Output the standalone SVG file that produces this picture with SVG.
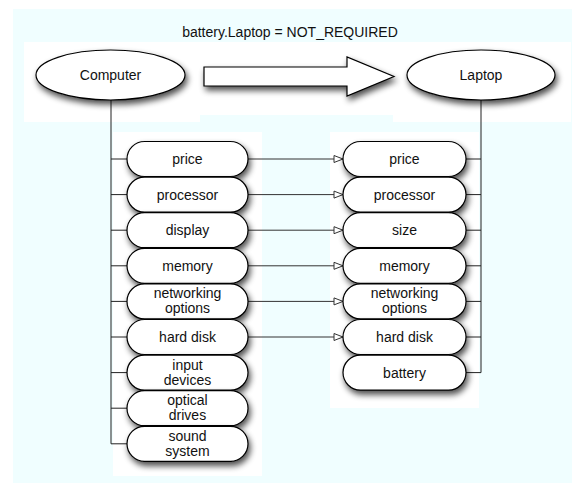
<svg xmlns="http://www.w3.org/2000/svg" width="572" height="483" viewBox="0 0 572 483">
  <defs>
    <filter id="shadow" x="-20%" y="-30%" width="150%" height="180%">
      <feGaussianBlur in="SourceAlpha" stdDeviation="3"/>
      <feOffset dx="2" dy="4" result="b"/>
      <feComponentTransfer><feFuncA type="linear" slope="0.7"/></feComponentTransfer>
      <feMerge><feMergeNode/><feMergeNode in="SourceGraphic"/></feMerge>
    </filter>
    <marker id="open-tri" markerWidth="11" markerHeight="9" refX="10" refY="4.5" orient="auto" markerUnits="userSpaceOnUse">
      <path d="M1,1 L10,4.5 L1,8 Z" fill="#fff" stroke="#333" stroke-width="1"/>
    </marker>
  </defs>
  <style>
    text { font-family: "Liberation Sans", Arial, sans-serif; font-size: 14px; fill: #111; text-anchor: middle; }
    .pill { fill: #fff; stroke: #000; stroke-width: 1.2; filter: url(#shadow); }
    .oval { fill: #fff; stroke: #000; stroke-width: 1.2; filter: url(#shadow); }
    .tree { fill: none; stroke: #222; stroke-width: 1; }
    .link { fill: none; stroke: #333; stroke-width: 1; marker-end: url(#open-tri); }
  </style>

  <!-- page background and white panels -->
  <rect x="13" y="9" width="559" height="474" fill="#F0FEFF"/>
  <rect x="24" y="42" width="547" height="73" fill="#fff"/>
  <rect x="24" y="115" width="176" height="7" fill="#fff"/>
  <rect x="393" y="115" width="178" height="7" fill="#fff"/>
  <rect x="113" y="132" width="149" height="344" fill="#fff"/>
  <rect x="330" y="132" width="149" height="276" fill="#fff"/>

  <text x="290" y="37">battery.Laptop = NOT_REQUIRED</text>

  <!-- connectors -->
  <g id="connectors">
    <path class="tree" d="M111,100 V443.8 M111,159 H127 M111,194.6 H127 M111,230.2 H127 M111,265.8 H127 M111,301.4 H127 M111,337 H127 M111,372.6 H127 M111,408.2 H127 M111,443.8 H127"/>
    <path class="tree" d="M481,100 V372.6 M466,159 H481 M466,194.6 H481 M466,230.2 H481 M466,265.8 H481 M466,301.4 H481 M466,337 H481 M466,372.6 H481"/>
    <line class="link" x1="248" y1="159" x2="343" y2="159"/>
    <line class="link" x1="248" y1="194.6" x2="343" y2="194.6"/>
    <line class="link" x1="248" y1="230.2" x2="343" y2="230.2"/>
    <line class="link" x1="248" y1="265.8" x2="343" y2="265.8"/>
    <line class="link" x1="248" y1="301.4" x2="343" y2="301.4"/>
    <line class="link" x1="248" y1="337" x2="343" y2="337"/>
  </g>

  <!-- generalisation arrow -->
  <g id="specialises">
    <polygon points="204,67 347,67 347,57 394,76.5 347,96 347,86 204,86" fill="#fff" stroke="#000" stroke-width="1.2" filter="url(#shadow)"/>
  </g>

  <g id="computer">
    <ellipse class="oval" cx="110.5" cy="75" rx="74.5" ry="25"/>
    <text x="110.5" y="80">Computer</text>
  </g>
  <g id="laptop">
    <ellipse class="oval" cx="481" cy="75" rx="74" ry="25"/>
    <text x="481" y="80">Laptop</text>
  </g>

  <!-- Computer attributes -->
  <g id="c-price"><rect class="pill" x="127" y="141.5" width="121" height="35" rx="17.5"/><text x="187.5" y="164">price</text></g>
  <g id="c-processor"><rect class="pill" x="127" y="177.1" width="121" height="35" rx="17.5"/><text x="187.5" y="199.6">processor</text></g>
  <g id="c-display"><rect class="pill" x="127" y="212.7" width="121" height="35" rx="17.5"/><text x="187.5" y="235.2">display</text></g>
  <g id="c-memory"><rect class="pill" x="127" y="248.3" width="121" height="35" rx="17.5"/><text x="187.5" y="270.8">memory</text></g>
  <g id="c-networking"><rect class="pill" x="127" y="283.9" width="121" height="35" rx="17.5"/><text x="187.5" y="298.4">networking</text><text x="187.5" y="313.4">options</text></g>
  <g id="c-harddisk"><rect class="pill" x="127" y="319.5" width="121" height="35" rx="17.5"/><text x="187.5" y="342">hard disk</text></g>
  <g id="c-input"><rect class="pill" x="127" y="355.1" width="121" height="35" rx="17.5"/><text x="187.5" y="369.6">input</text><text x="187.5" y="384.6">devices</text></g>
  <g id="c-optical"><rect class="pill" x="127" y="390.7" width="121" height="35" rx="17.5"/><text x="187.5" y="405.2">optical</text><text x="187.5" y="420.2">drives</text></g>
  <g id="c-sound"><rect class="pill" x="127" y="426.3" width="121" height="35" rx="17.5"/><text x="187.5" y="440.8">sound</text><text x="187.5" y="455.8">system</text></g>

  <!-- Laptop attributes -->
  <g id="l-price"><rect class="pill" x="343" y="141.5" width="123" height="35" rx="17.5"/><text x="404.5" y="164">price</text></g>
  <g id="l-processor"><rect class="pill" x="343" y="177.1" width="123" height="35" rx="17.5"/><text x="404.5" y="199.6">processor</text></g>
  <g id="l-size"><rect class="pill" x="343" y="212.7" width="123" height="35" rx="17.5"/><text x="404.5" y="235.2">size</text></g>
  <g id="l-memory"><rect class="pill" x="343" y="248.3" width="123" height="35" rx="17.5"/><text x="404.5" y="270.8">memory</text></g>
  <g id="l-networking"><rect class="pill" x="343" y="283.9" width="123" height="35" rx="17.5"/><text x="404.5" y="298.4">networking</text><text x="404.5" y="313.4">options</text></g>
  <g id="l-harddisk"><rect class="pill" x="343" y="319.5" width="123" height="35" rx="17.5"/><text x="404.5" y="342">hard disk</text></g>
  <g id="l-battery"><rect class="pill" x="343" y="355.1" width="123" height="35" rx="17.5"/><text x="404.5" y="377.6">battery</text></g>
</svg>
